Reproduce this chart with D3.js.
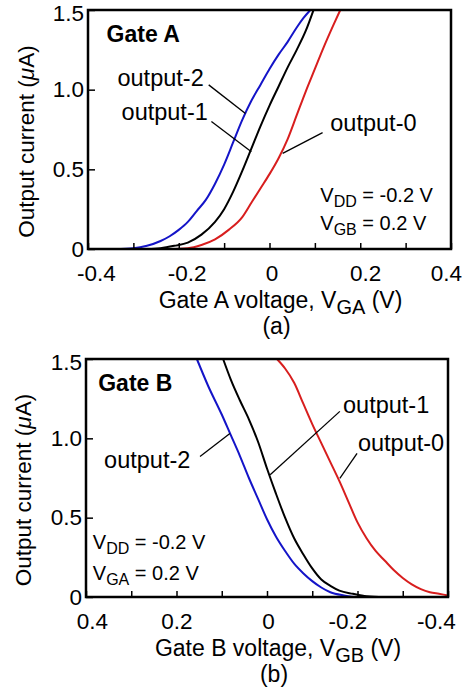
<!DOCTYPE html>
<html>
<head>
<meta charset="utf-8">
<script src="https://cdn.jsdelivr.net/npm/d3@7"></script>
<style>
  body { margin: 0; background: #fff; }
  text { font-family: "Liberation Sans", Arial, sans-serif; fill: #000; }
</style>
</head>
<body>
<div id="chart"></div>
<script>
// ---- data ---------------------------------------------------------------
// panel (a): current vs gate A voltage  [V, uA]
const aOut2 = [[-0.34,0],[-0.30,0.005],[-0.27,0.02],[-0.24,0.05],[-0.22,0.08],[-0.20,0.12],[-0.18,0.17],[-0.16,0.24],[-0.14,0.31],[-0.12,0.41],[-0.10,0.53],[-0.08,0.67],[-0.06,0.81],[-0.04,0.93],[-0.02,1.03],[0.0,1.13],[0.02,1.22],[0.04,1.30],[0.06,1.39],[0.075,1.45],[0.09,1.5]];
const aOut1 = [[-0.27,0],[-0.24,0.005],[-0.21,0.02],[-0.18,0.04],[-0.15,0.09],[-0.12,0.17],[-0.10,0.25],[-0.08,0.36],[-0.06,0.49],[-0.04,0.63],[-0.02,0.77],[0.0,0.90],[0.02,1.02],[0.04,1.14],[0.06,1.25],[0.08,1.37],[0.097,1.5]];
const aOut0 = [[-0.22,0],[-0.18,0.005],[-0.15,0.025],[-0.12,0.06],[-0.09,0.12],[-0.06,0.2],[-0.04,0.29],[-0.02,0.38],[0.0,0.47],[0.02,0.57],[0.04,0.69],[0.06,0.84],[0.08,0.99],[0.10,1.13],[0.12,1.27],[0.14,1.40],[0.156,1.5]];

// panel (b): current vs gate B voltage
const bOut2 = [[0.155,1.5],[0.13,1.33],[0.10,1.15],[0.08,1.02],[0.06,0.89],[0.04,0.75],[0.02,0.62],[0.0,0.49],[-0.02,0.38],[-0.04,0.29],[-0.06,0.21],[-0.08,0.15],[-0.10,0.10],[-0.12,0.06],[-0.14,0.03],[-0.17,0.01],[-0.2,0],[-0.34,0]];
const bOut1 = [[0.097,1.5],[0.08,1.37],[0.06,1.24],[0.04,1.12],[0.02,0.98],[0.0,0.81],[-0.02,0.65],[-0.04,0.50],[-0.06,0.37],[-0.08,0.27],[-0.10,0.18],[-0.12,0.11],[-0.14,0.07],[-0.16,0.04],[-0.19,0.02],[-0.22,0.005],[-0.26,0]];
const bOut0 = [[-0.022,1.5],[-0.04,1.44],[-0.06,1.35],[-0.08,1.22],[-0.10,1.09],[-0.12,0.97],[-0.14,0.85],[-0.16,0.73],[-0.18,0.60],[-0.20,0.47],[-0.22,0.37],[-0.24,0.29],[-0.26,0.23],[-0.28,0.17],[-0.30,0.12],[-0.32,0.08],[-0.34,0.05],[-0.36,0.03],[-0.38,0.02],[-0.4,0.01]];

// ticks
const xTicks = [-0.4, -0.3, -0.2, -0.1, 0, 0.1, 0.2, 0.3, 0.4];
const xTickLabels = ["-0.4", "", "-0.2", "", "0", "", "0.2", "", "0.4"];
const yTicks = [0, 0.5, 1.0, 1.5];
const yTickLabels = ["0", "0.5", "1.0", "1.5"];

// annotations: label anchor [V, uA], leader line from -> to
const aNotes = [
    {text: "output-2", at: [-0.335, 1.02], from: [-0.134, 1.03], to: [-0.053, 0.85]},
    {text: "output-1", at: [-0.326, 0.81], from: [-0.128, 0.80], to: [-0.040, 0.61]},
    {text: "output-0", at: [0.134, 0.74], from: [0.117, 0.73], to: [0.029, 0.60]}
];
const bNotes = [
    {text: "output-2", at: [0.36, 0.81], from: [0.148, 0.886], to: [0.082, 1.03]},
    {text: "output-1", at: [-0.168, 1.16], from: [-0.161, 1.17], to: [-0.007, 0.77]},
    {text: "output-0", at: [-0.201, 0.92], from: [-0.199, 0.905], to: [-0.161, 0.747]}
];

const blue = "#1414c8";
const red = "#d81e1e";

const svg = d3.select("#chart").append("svg")
    .attr("width", 469)
    .attr("height", 692);

// draw one panel
const drawPanel = (opt) => {
    const x = d3.scaleLinear().domain(opt.xDomain).range([opt.left, opt.right]);
    const y = d3.scaleLinear().domain([0, 1.5]).range([opt.bottom, opt.top]);
    const g = svg.append("g");

    // curves (points are ordered left to right on screen)
    const line = d3.line()
        .x(d => x(d[0]))
        .y(d => y(d[1]))
        .curve(d3.curveMonotoneX);

    opt.series.forEach(s => {
        g.append("path")
            .datum(s.data)
            .attr("d", line)
            .attr("fill", "none")
            .attr("stroke", s.color)
            .attr("stroke-width", 2);
    });

    // x axis, ticks inward
    const xAxis = d3.axisBottom(x)
        .tickValues(xTicks)
        .tickFormat((d, i) => xTickLabels[i])
        .tickSizeInner(-6)
        .tickSizeOuter(0)
        .tickPadding(16);
    const xG = g.append("g")
        .attr("transform", `translate(0, ${opt.bottom})`)
        .call(xAxis);
    xG.select(".domain").remove();
    xG.selectAll("line").attr("stroke-width", 1.5);
    // labels sit a little off their ticks in the original
    xG.selectAll("text")
        .attr("font-size", 22.5)
        .attr("font-family", "Liberation Sans, Arial, sans-serif")
        .attr("dx", (d, i) => opt.labelNudge[i]);

    // y axis
    const yAxis = d3.axisLeft(y)
        .tickValues(yTicks)
        .tickFormat((d, i) => yTickLabels[i])
        .tickSizeInner(-7)
        .tickSizeOuter(0)
        .tickPadding(4);
    const yG = g.append("g")
        .attr("transform", `translate(${opt.left}, 0)`)
        .call(yAxis);
    yG.select(".domain").remove();
    yG.selectAll("line").attr("stroke-width", 1.5);
    yG.selectAll("text")
        .attr("font-size", 22.5)
        .attr("font-family", "Liberation Sans, Arial, sans-serif")
        .attr("y", d => d === 1.5 ? 3 : 0);   // keep the top label inside the page

    // frame
    g.append("rect")
        .attr("x", opt.left)
        .attr("y", opt.top)
        .attr("width", opt.right - opt.left)
        .attr("height", opt.bottom - opt.top)
        .attr("fill", "none")
        .attr("stroke", "#000")
        .attr("stroke-width", 2.5);

    // y title
    const yt = g.append("text")
        .attr("transform", `translate(${opt.yTitleX}, ${(opt.top + opt.bottom) / 2 + 12}) rotate(-90)`)
        .attr("text-anchor", "middle")
        .attr("font-size", 22.5);
    yt.append("tspan").text("Output current (");
    yt.append("tspan").attr("font-style", "italic").text("μ");
    yt.append("tspan").text("A)");

    // x title
    const xt = g.append("text")
        .attr("x", (opt.left + opt.right) / 2 + 11)
        .attr("y", opt.bottom + 59)
        .attr("text-anchor", "middle")
        .attr("font-size", 23);
    xt.append("tspan").text(opt.xTitle);
    xt.append("tspan").attr("font-size", 20).attr("dy", 6).text(opt.xSub);
    xt.append("tspan").attr("dy", -6).text(" (V)");

    g.append("text")
        .attr("x", (opt.left + opt.right) / 2 + 7)
        .attr("y", opt.bottom + 85)
        .attr("text-anchor", "middle")
        .attr("font-size", 23)
        .text(opt.caption);

    // panel title
    g.append("text")
        .attr("x", x(opt.titleAt[0]))
        .attr("y", y(opt.titleAt[1]))
        .attr("font-size", 23)
        .attr("font-weight", "bold")
        .text(opt.title);

    // annotations
    opt.notes.forEach(n => {
        g.append("text")
            .attr("x", x(n.at[0]))
            .attr("y", y(n.at[1]))
            .attr("font-size", 23.5)
            .text(n.text);
        g.append("line")
            .attr("x1", x(n.from[0])).attr("y1", y(n.from[1]))
            .attr("x2", x(n.to[0])).attr("y2", y(n.to[1]))
            .attr("stroke", "#000")
            .attr("stroke-width", 1.3);
    });

    // bias conditions
    opt.bias.forEach(b => {
        const t = g.append("text")
            .attr("x", x(b.at[0]))
            .attr("y", y(b.at[1]))
            .attr("font-size", 20);
        t.append("tspan").text("V");
        t.append("tspan").attr("font-size", 16).attr("dy", 5).text(b.sub);
        t.append("tspan").attr("dy", -5).text(b.rest);
    });
};

drawPanel({
    left: 88, right: 451, top: 10, bottom: 249,
    xDomain: [-0.4, 0.4],
    labelNudge: [8, 0, 8, 0, 2, 0, 5, 0, -5],
    yTitleX: 34,
    xTitle: "Gate A voltage, V", xSub: "GA", caption: "(a)",
    title: "Gate A", titleAt: [-0.359, 1.30],
    series: [
        {data: aOut2, color: blue},
        {data: aOut1, color: "#000"},
        {data: aOut0, color: red}
    ],
    notes: aNotes,
    bias: [
        {at: [0.112, 0.295], sub: "DD", rest: " = -0.2 V"},
        {at: [0.112, 0.12], sub: "GB", rest: " = 0.2 V"}
    ]
});

drawPanel({
    left: 86, right: 448, top: 359, bottom: 597,
    xDomain: [0.4, -0.4],
    labelNudge: [-12, 0, -10, 0, 1, 0, 0, 0, 6],
    yTitleX: 31,
    xTitle: "Gate B voltage, V", xSub: "GB", caption: "(b)",
    title: "Gate B", titleAt: [0.373, 1.30],
    series: [
        {data: bOut2, color: blue},
        {data: bOut1, color: "#000"},
        {data: bOut0, color: red}
    ],
    notes: bNotes,
    bias: [
        {at: [0.385, 0.30], sub: "DD", rest: " = -0.2 V"},
        {at: [0.385, 0.11], sub: "GA", rest: " = 0.2 V"}
    ]
});
</script>
</body>
</html>
